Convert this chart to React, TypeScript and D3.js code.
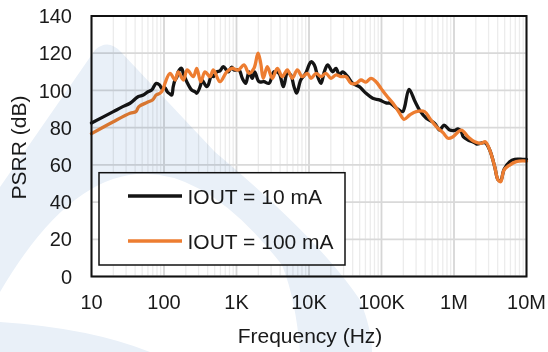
import React from "react";
import * as d3 from "d3";

const xTickValues = [10, 100, 1e3, 1e4, 1e5, 1e6, 1e7];
const xTickLabels = ["10", "100", "1K", "10K", "100K", "1M", "10M"];
const yTickValues = [0, 20, 40, 60, 80, 100, 120, 140];
const seriesNames = ["IOUT = 10 mA", "IOUT = 100 mA"];
const seriesColors = ["#141414", "#ED7D31"];

// [frequency Hz, PSRR dB]
const psrr10mA: [number, number][] = [
  [10, 82.5], [20, 88.6], [25.8, 90.9], [34, 93.1], [43.8, 96.6], [51.8, 97.5],
  [60, 99.3], [67.6, 100.2], [78, 103.8], [87, 102.9], [93, 101.1], [103, 101.5],
  [111, 99.3], [120, 98.2], [128, 97.5], [134, 102], [142, 105.6], [150, 107],
  [157, 110], [175, 111.9], [185, 109], [206, 104.7], [241, 100.2], [268, 99.3],
  [283, 98.5], [321, 103], [331, 105.6], [348, 104.7], [388, 102], [408, 103],
  [455, 108.4], [479, 107.4], [533, 110], [592, 110.5], [658, 112.8], [771, 110],
  [859, 112.5], [924, 111], [1082, 111], [1202, 106.5], [1340, 103.8], [1486, 110],
  [1652, 106.5], [1782, 110], [2044, 104.7], [2395, 104.7], [2808, 103.8], [3289, 110],
  [3855, 109.2], [4426, 102], [5026, 109.2], [5600, 108.3], [6212, 102], [6763, 98.5],
  [7688, 105.6], [9000, 109.2], [10000, 113.7], [10660, 115.4], [11830, 113.7],
  [13180, 107.4], [14650, 103.8], [16260, 110], [18100, 113.7], [21230, 110],
  [23560, 111.9], [26180, 108.3], [29150, 110], [34190, 107.4], [40060, 103.8],
  [49400, 102], [61100, 98.5], [75600, 95.8], [93300, 94.9], [115400, 93.3],
  [131000, 93.1], [162000, 90.4], [196000, 88.6], [209000, 91.3], [240000, 100.6],
  [290000, 94], [340000, 89], [415000, 85], [542000, 82.3], [635000, 78.7],
  [728000, 81.4], [873000, 78.7], [1023000, 78.5], [1135000, 79.3], [1262000, 77.8],
  [1343000, 75.1], [1560000, 73.4], [1932000, 71.9], [2057000, 71.2], [2679000, 71.9],
  [3107000, 68], [3643000, 59], [4047000, 52], [4404000, 51.5], [4894000, 57.5],
  [5865000, 61.7], [6875000, 63], [8950000, 63], [10000000, 63],
];

const psrr100mA: [number, number][] = [
  [10, 76.8], [20, 83.2], [34, 87.7], [41, 88.6], [45, 91.3], [58, 93.5], [70, 95],
  [78, 97.5], [88, 98.5], [97, 100.5], [103, 103.8], [121, 109.2], [142, 105.6],
  [157, 110], [185, 105.6], [209, 111], [254, 107.4], [283, 111.9], [321, 104.7],
  [368, 110], [431, 107.4], [479, 111], [592, 104.7], [733, 110], [859, 111.9],
  [1060, 111], [1268, 113.7], [1486, 109.2], [1742, 111.9], [1982, 120], [2158, 114.6],
  [2344, 106.5], [2661, 112.8], [3119, 106.5], [3655, 111.9], [4285, 107.4],
  [5026, 111], [5890, 106.5], [6899, 111], [8089, 107.4], [9480, 109.2], [10660, 106.5],
  [12500, 109.2], [14650, 107.4], [17150, 109.2], [20100, 106.5], [23560, 108.3],
  [27610, 107.4], [32380, 107.4], [37960, 103.8], [44490, 103.8], [52100, 105.6],
  [61100, 104.5], [71600, 106.5], [84000, 104.7], [98400, 101.1], [115400, 97.5],
  [144000, 93.1], [178000, 87.7], [204000, 84.5], [245000, 86.8], [302000, 88.6],
  [394000, 88.6], [462000, 85], [570000, 80.5], [705000, 77.3], [826000, 74.3],
  [969000, 75.1], [1262000, 78.7], [1560000, 75.1], [1932000, 72.4], [2381000, 71.6],
  [2704000, 72.4], [3107000, 68], [3643000, 59], [4047000, 51.9], [4404000, 50.9],
  [4894000, 57.2], [5865000, 59.9], [7230000, 61.7], [8950000, 62.1], [10000000, 62],
];

const FONT = "'Liberation Sans', Arial, sans-serif";

export default function App() {
  const W = 548, H = 352;
  const x = d3.scaleLog().domain([10, 1e7]).range([91.5, 526.5]);
  const y = d3.scaleLinear().domain([0, 140]).range([276.5, 16]);

  const minorTicks: number[] = [];
  for (let dec = 10; dec < 1e7; dec *= 10) {
    for (let k = 2; k <= 9; k++) minorTicks.push(dec * k);
  }

  const line = d3
    .line<[number, number]>()
    .x((d) => x(d[0]))
    .y((d) => y(d[1]))
    .curve(d3.curveCatmullRom.alpha(0.5));

  const series = [psrr10mA, psrr100mA];

  return (
    <div style={{ position: "fixed", left: 0, top: 0 }}>
      <svg width={W} height={H} style={{ display: "block", background: "#fff" }}>
        <rect x={0} y={0} width={W} height={H} fill="#fff" />
        {/* minor vertical grid */}
        {minorTicks.map((t) => (
          <line key={"m" + t} x1={x(t)} x2={x(t)} y1={y(140)} y2={y(0)} stroke="#ececec" strokeWidth={1.3} />
        ))}
        {/* major vertical grid */}
        {xTickValues.map((t) => (
          <line key={"M" + t} x1={x(t)} x2={x(t)} y1={y(140)} y2={y(0)} stroke="#d6d6d6" strokeWidth={1.8} />
        ))}
        {/* horizontal grid */}
        {yTickValues.map((t) => (
          <line key={"h" + t} x1={x(10)} x2={x(1e7)} y1={y(t)} y2={y(t)} stroke="#d9d9d9" strokeWidth={1.8} />
        ))}
        {/* series */}
        {series.map((s, i) => (
          <path key={"s" + i} d={line(s) || ""} fill="none" stroke={seriesColors[i]} strokeWidth={3.3} strokeLinejoin="round" strokeLinecap="round" />
        ))}
        {/* plot border */}
        <rect x={x(10)} y={y(140)} width={x(1e7) - x(10)} height={y(0) - y(140)} fill="none" stroke="#111" strokeWidth={2} />
        {/* legend */}
        <rect x={99} y={172.7} width={246} height={92.3} fill="#fff" stroke="#111" strokeWidth={1.5} />
        {seriesNames.map((n, i) => (
          <g key={"l" + i}>
            <line x1={128} x2={182} y1={196 + i * 45} y2={196 + i * 45} stroke={seriesColors[i]} strokeWidth={3.3} />
            <text x={187.5} y={203.5 + i * 45} fontFamily={FONT} fontSize={21} fill="#1a1a1a">{n}</text>
          </g>
        ))}
        {/* y tick labels */}
        {yTickValues.map((t) => (
          <text key={"yt" + t} x={72} y={y(t)} dy="0.36em" textAnchor="end" fontFamily={FONT} fontSize={20} fill="#1a1a1a">{t}</text>
        ))}
        {/* x tick labels */}
        {xTickValues.map((t, i) => (
          <text key={"xt" + t} x={x(t)} y={309} textAnchor="middle" fontFamily={FONT} fontSize={20} fill="#1a1a1a">{xTickLabels[i]}</text>
        ))}
        <text x={310} y={343} textAnchor="middle" fontFamily={FONT} fontSize={21} fill="#1a1a1a">Frequency (Hz)</text>
        <text transform="translate(26,147.5) rotate(-90)" textAnchor="middle" fontFamily={FONT} fontSize={21} fill="#1a1a1a">PSRR (dB)</text>
        {/* faint background watermark */}
        <path
          d="M0,187 L95,50 Q108,38 121,52 L215,152 Q320,240 360,300 Q372,330 372,352 L300,352 Q296,300 282,265 Q130,70 0,292 Z M0,322 Q90,328 150,352 L0,352 Z"
          fill="#e9f0f8"
          style={{ mixBlendMode: "multiply" }}
        />
      </svg>
    </div>
  );
}
